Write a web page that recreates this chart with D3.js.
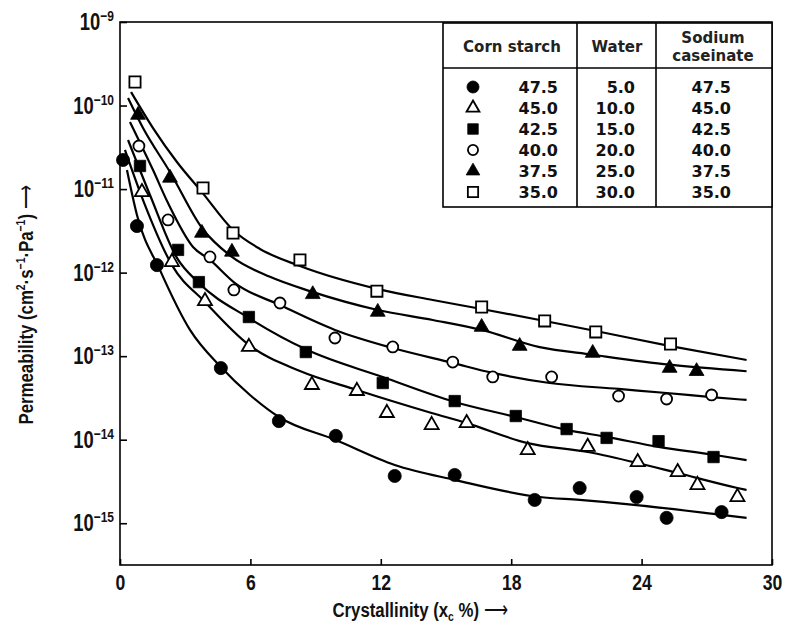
<!DOCTYPE html>
<html><head><meta charset="utf-8">
<script src="https://cdn.jsdelivr.net/npm/d3@7"></script>
<style>body{margin:0;background:#fff}</style>
</head><body>
<svg id="chart" width="787" height="635"></svg>
<script>
// ---------- data ----------
const xTicks = [0, 6, 12, 18, 24, 30];
const yTickExps = [-9, -10, -11, -12, -13, -14, -15];

const legendCorn = ["47.5", "45.0", "42.5", "40.0", "37.5", "35.0"];
const legendWater = ["5.0", "10.0", "15.0", "20.0", "25.0", "30.0"];
const legendCaseinate = ["47.5", "45.0", "42.5", "40.0", "37.5", "35.0"];
const legendSymbols = ["filledCircle", "openTriangle", "filledSquare", "openCircle", "filledTriangle", "openSquare"];

// measured points (crystallinity %, permeability cm2 s-1 Pa-1)
const s475X = [0.14, 0.78, 1.70, 4.64, 7.31, 9.93, 12.64, 15.40, 19.08, 21.15, 23.77, 25.15, 27.68];
const s475P = [2.23e-11, 3.61e-12, 1.23e-12, 7.2e-14, 1.67e-14, 1.11e-14, 3.68e-15, 3.78e-15, 1.90e-15, 2.64e-15, 2.06e-15, 1.16e-15, 1.36e-15];
const s450X = [1.01, 2.39, 3.91, 5.93, 8.83, 10.90, 12.28, 14.34, 15.95, 18.76, 21.52, 23.82, 25.66, 26.57, 28.41];
const s450P = [9.2e-12, 1.34e-12, 4.57e-13, 1.29e-13, 4.52e-14, 3.83e-14, 2.09e-14, 1.50e-14, 1.58e-14, 7.5e-15, 8.2e-15, 5.4e-15, 4.1e-15, 2.87e-15, 2.06e-15];
const s425X = [0.92, 2.67, 3.63, 5.93, 8.55, 12.09, 15.40, 18.21, 20.55, 22.39, 24.78, 27.31];
const s425P = [1.89e-11, 1.87e-12, 7.7e-13, 2.94e-13, 1.12e-13, 4.77e-14, 2.90e-14, 1.92e-14, 1.34e-14, 1.05e-14, 9.6e-15, 6.2e-15];
const s400X = [0.87, 2.21, 4.14, 5.24, 7.36, 9.89, 12.55, 15.31, 17.15, 19.86, 22.94, 25.15, 27.22];
const s400P = [3.28e-11, 4.27e-12, 1.54e-12, 6.2e-13, 4.33e-13, 1.65e-13, 1.29e-13, 8.5e-14, 5.64e-14, 5.64e-14, 3.33e-14, 3.07e-14, 3.43e-14];
const s375X = [0.83, 2.30, 3.77, 5.15, 8.87, 11.86, 16.64, 18.39, 21.75, 25.29, 26.53];
const s375P = [7.7e-11, 1.36e-11, 2.98e-12, 1.77e-12, 5.5e-13, 3.38e-13, 2.23e-13, 1.32e-13, 1.09e-13, 7.2e-14, 6.6e-14];
const s350X = [0.69, 3.82, 5.20, 8.28, 11.82, 16.64, 19.54, 21.89, 25.33];
const s350P = [1.91e-10, 1.03e-11, 2.98e-12, 1.42e-12, 6.0e-13, 3.87e-13, 2.64e-13, 1.95e-13, 1.40e-13];

// fitted curves
const c475X = [0.32, 0.78, 1.84, 3.22, 4.64, 5.98, 7.31, 9.93, 12.64, 15.40, 19.31, 21.15, 23.77, 27.68, 28.83];
const c475P = [1.69e-11, 4.90e-12, 1.07e-12, 2.06e-13, 7.41e-14, 3.43e-14, 1.87e-14, 9.9e-15, 4.98e-15, 3.30e-15, 2.06e-15, 1.90e-15, 1.65e-15, 1.26e-15, 1.16e-15];
const c450X = [0.23, 1.15, 2.39, 3.91, 5.93, 8.28, 10.90, 14.34, 15.95, 18.76, 21.52, 23.82, 25.66, 28.41, 28.83];
const c450P = [2.94e-11, 6.44e-12, 1.23e-12, 4.45e-13, 1.36e-13, 6.64e-14, 3.94e-14, 2.09e-14, 1.58e-14, 9.1e-15, 7.13e-15, 5.26e-15, 3.99e-15, 2.64e-15, 2.50e-15];
const c425X = [0.37, 1.38, 2.62, 3.63, 5.93, 8.60, 12.09, 15.40, 18.21, 20.55, 22.39, 24.78, 27.31, 28.83];
const c425P = [3.87e-11, 8.5e-12, 1.50e-12, 7.5e-13, 2.86e-13, 1.19e-13, 5.62e-14, 2.83e-14, 1.87e-14, 1.31e-14, 1.08e-14, 8.2e-15, 6.6e-15, 5.7e-15];
const c400X = [0.46, 1.52, 2.21, 3.36, 4.14, 5.29, 7.36, 9.89, 12.55, 15.31, 17.15, 19.77, 22.94, 25.15, 27.22, 28.83];
const c400P = [6.35e-11, 1.69e-11, 6.8e-12, 2.03e-12, 1.42e-12, 7.5e-13, 4.09e-13, 2.06e-13, 1.25e-13, 8.3e-14, 6.3e-14, 4.77e-14, 4.05e-14, 3.62e-14, 3.24e-14, 2.99e-14];
const c375X = [0.37, 1.06, 2.30, 3.77, 5.15, 6.90, 8.74, 11.86, 14.39, 16.64, 19.31, 21.75, 25.29, 28.83];
const c375P = [1.23e-10, 5.38e-11, 1.60e-11, 3.42e-12, 1.54e-12, 8.9e-13, 6.0e-13, 3.57e-13, 2.71e-13, 2.06e-13, 1.28e-13, 1.04e-13, 7.9e-14, 6.6e-14];
const c350X = [0.51, 1.52, 2.62, 3.77, 5.20, 6.44, 8.28, 11.82, 14.39, 16.64, 19.31, 21.89, 25.33, 28.83];
const c350P = [1.45e-10, 5.38e-11, 2.11e-11, 9.2e-12, 3.24e-12, 1.92e-12, 1.20e-12, 6.4e-13, 4.70e-13, 3.67e-13, 2.71e-13, 2.00e-13, 1.32e-13, 9.0e-14];

const seriesList = [
  {sym: "filledCircle",   px: s475X, py: s475P, cx: c475X, cy: c475P},
  {sym: "openTriangle",   px: s450X, py: s450P, cx: c450X, cy: c450P},
  {sym: "filledSquare",   px: s425X, py: s425P, cx: c425X, cy: c425P},
  {sym: "openCircle",     px: s400X, py: s400P, cx: c400X, cy: c400P},
  {sym: "filledTriangle", px: s375X, py: s375P, cx: c375X, cy: c375P},
  {sym: "openSquare",     px: s350X, py: s350P, cx: c350X, cy: c350P}
];

// ---------- layout ----------
const L = 120, R = 772, T = 22, B = 565;
const svg = d3.select("#chart");
const x = d3.scaleLinear().domain([0, 30]).range([L, R]);
const y = d3.scaleLog().domain([Math.pow(10, -15.5), 1e-9]).range([B, T]);

const tickFont = "'Liberation Sans','Arial',sans-serif";
const tableFont = "'DejaVu Sans','Liberation Sans',sans-serif";
const SX = 0.8; // horizontal compression to mimic condensed type

// curves
const line = d3.line().x(d => x(d[0])).y(d => y(d[1])).curve(d3.curveMonotoneX);
const gCurves = svg.append("g");
seriesList.forEach(s => {
  gCurves.append("path")
    .attr("d", line(s.cx.map((v, i) => [v, s.cy[i]])))
    .attr("fill", "none").attr("stroke", "#000").attr("stroke-width", 2.2);
});

// marker helper
function marker(g, sym, cx, cy, scale) {
  const k = scale || 1;
  const filled = sym.startsWith("filled");
  let type, size;
  if (sym.endsWith("Circle")) { type = d3.symbolCircle; size = filled ? 135 : 95; }
  else if (sym.endsWith("Square")) { type = d3.symbolSquare; size = filled ? 130 : 125; }
  else { type = d3.symbolTriangle; size = filled ? 95 : 85; }
  g.append("path")
    .attr("d", d3.symbol().type(type).size(size * k * k)())
    .attr("transform", `translate(${cx},${cy})`)
    .attr("fill", filled ? "#000" : "#fff")
    .attr("stroke", "#000").attr("stroke-width", filled ? 0.8 : 1.8);
}

const gPts = svg.append("g");
seriesList.forEach(s => {
  s.px.forEach((v, i) => marker(gPts, s.sym, x(v), y(s.py[i])));
});

// frame
svg.append("rect").attr("x", L).attr("y", T).attr("width", R - L).attr("height", B - T)
  .attr("fill", "none").attr("stroke", "#000").attr("stroke-width", 1.6);

// x axis (ticks inward)
const xAxis = svg.append("g").attr("transform", `translate(0,${B})`)
  .call(d3.axisBottom(x).tickValues(xTicks).tickSize(-6).tickPadding(9).tickFormat(d3.format("d")));
xAxis.select(".domain").remove();
xAxis.selectAll("line").attr("stroke", "#000").attr("stroke-width", 1.6);
xAxis.selectAll("text").attr("font-family", tickFont).attr("font-size", 22).attr("font-weight", "bold")
  .attr("fill", "#111").attr("transform", `scale(${SX},1)`);

// y axis (ticks inward)
const yAxis = svg.append("g").attr("transform", `translate(${L},0)`)
  .call(d3.axisLeft(y).tickValues(yTickExps.map(e => Math.pow(10, e))).tickSize(-7).tickFormat(""));
yAxis.select(".domain").remove();
yAxis.selectAll("line").attr("stroke", "#000").attr("stroke-width", 1.6);
yTickExps.forEach(e => {
  const t = svg.append("text")
    .attr("transform", `translate(114,${y(Math.pow(10, e)) + 8}) scale(${SX},1)`)
    .attr("text-anchor", "end").attr("font-family", tickFont).attr("font-weight", "bold").attr("fill", "#111");
  t.append("tspan").attr("font-size", 23).text("10");
  t.append("tspan").attr("font-size", 15).attr("dy", -9).text("\u2212" + Math.abs(e));
});

// axis titles
const xt = svg.append("text").attr("transform", `translate(420,617) scale(${SX},1)`).attr("text-anchor", "middle")
  .attr("font-family", tickFont).attr("font-size", 21).attr("font-weight", "bold").attr("fill", "#111");
xt.append("tspan").text("Crystallinity (x");
xt.append("tspan").attr("font-size", 13).attr("dy", 4).text("c");
xt.append("tspan").attr("dy", -4).text(" %) ");
xt.append("tspan").attr("font-weight", "normal").text("\u27f6");

const yt = svg.append("text").attr("transform", `translate(33,305) rotate(-90) scale(${SX},1)`).attr("text-anchor", "middle")
  .attr("font-family", tickFont).attr("font-size", 21).attr("font-weight", "bold").attr("fill", "#111");
yt.append("tspan").text("Permeability (cm");
yt.append("tspan").attr("font-size", 13).attr("dy", -8).text("2");
yt.append("tspan").attr("dy", 8).text("\u00b7s");
yt.append("tspan").attr("font-size", 13).attr("dy", -8).text("\u22121");
yt.append("tspan").attr("dy", 8).text("\u00b7Pa");
yt.append("tspan").attr("font-size", 13).attr("dy", -8).text("\u22121");
yt.append("tspan").attr("dy", 8).text(") ");
yt.append("tspan").attr("font-weight", "normal").text("\u27f6");

// legend table
const lg = svg.append("g");
const tL = 443, tR = 772, tT = 23, tB = 207, tH = 68, c1 = 577, c2 = 656;
lg.append("rect").attr("x", tL).attr("y", tT).attr("width", tR - tL).attr("height", tB - tT)
  .attr("fill", "#fff").attr("stroke", "#000").attr("stroke-width", 1.6);
[[tL, tH, tR, tH], [c1, tT, c1, tB], [c2, tT, c2, tB]].forEach(l =>
  lg.append("line").attr("x1", l[0]).attr("y1", l[1]).attr("x2", l[2]).attr("y2", l[3])
    .attr("stroke", "#000").attr("stroke-width", 1.6));
const head = (tx, ty, s) => lg.append("text").attr("x", tx).attr("y", ty).attr("text-anchor", "middle")
  .attr("font-family", tableFont).attr("font-size", 15).attr("font-weight", "bold").attr("fill", "#222").text(s);
head(512, 52, "Corn starch");
head(617, 52, "Water");
head(713, 43, "Sodium");
head(713, 61, "caseinate");
const rowY = d3.range(6).map(i => 87 + i * 21);
legendSymbols.forEach((s, i) => {
  marker(lg, s, 473, rowY[i], 0.92);
  const num = (tx, v) => lg.append("text").attr("x", tx).attr("y", rowY[i] + 6).attr("text-anchor", "end")
    .attr("font-family", tableFont).attr("font-size", 16).attr("font-weight", "bold").attr("fill", "#111").text(v);
  num(558, legendCorn[i]);
  num(635, legendWater[i]);
  num(731, legendCaseinate[i]);
});
</script>
</body></html>
